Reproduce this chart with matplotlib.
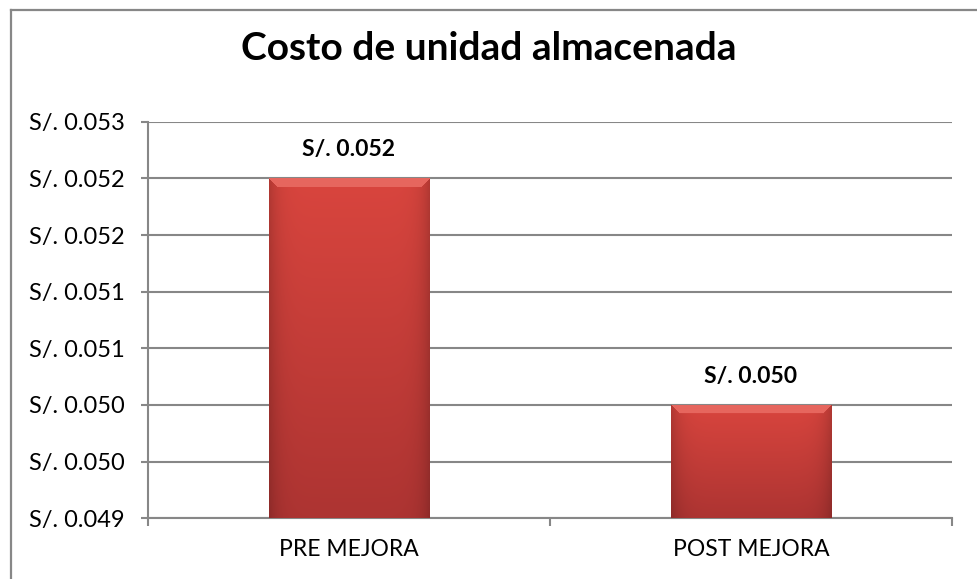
import matplotlib.pyplot as plt
import numpy as np
from matplotlib.lines import Line2D
from matplotlib.ticker import FixedLocator

plt.rcParams['font.family'] = ['Lato', 'DejaVu Sans']

# data
categories = ['PRE MEJORA', 'POST MEJORA']
costs = [0.052, 0.050]
y_ticks = [0.049, 0.0495, 0.050, 0.0505, 0.051, 0.0515, 0.052, 0.0525]
y_tick_labels = ['S/. 0.049', 'S/. 0.050', 'S/. 0.050', 'S/. 0.051',
                 'S/. 0.051', 'S/. 0.052', 'S/. 0.052', 'S/. 0.053']

grey = '#878787'
ymin, ymax = 0.049, 0.0525

fig = plt.figure(figsize=(9.77, 5.79), dpi=100)
ax_h_px = 518.3 - 121.7
ax = fig.add_axes([148/977, 1 - 518.3/579, (952 - 148)/977, ax_h_px/579])

# chart border (left and top edge)
fig.add_artist(Line2D([11/977, 11/977], [0, 1 - 10/579], transform=fig.transFigure, color=grey, lw=1.6))
fig.add_artist(Line2D([11/977, 1], [1 - 10/579, 1 - 10/579], transform=fig.transFigure, color=grey, lw=1.6))

x = np.arange(len(categories))
bars = ax.bar(x, costs, width=0.4, color='#c93c37', zorder=3)

# shaded fill for each bar: lighter top, darker bottom, bevelled top band
top_col = np.array([0xd9, 0x45, 0x3e]) / 255
bot_col = np.array([0xad, 0x34, 0x32]) / 255
band_col = np.array([0xe6, 0x66, 0x5e]) / 255
px_per_unit = ax_h_px / (ymax - ymin)
for b in bars:
    x0, w, h = b.get_x(), b.get_width(), b.get_height()
    nrow = int(round((h - ymin) * px_per_unit))
    ncol = 161
    t = np.linspace(0, 1, nrow)[:, None, None]
    img = bot_col + (top_col - bot_col) * t
    img = np.repeat(img, ncol, axis=1)
    cx = np.abs(np.linspace(-1, 1, ncol))
    edge = 1 - 0.18 * cx ** 8
    img = img * edge[None, :, None]
    # bevel band along the top
    rows_from_top = np.arange(nrow)[::-1][:, None]
    cols = np.arange(ncol)[None, :]
    dist_side = np.minimum(cols, ncol - 1 - cols)
    band = (rows_from_top < 9) & (dist_side >= rows_from_top)
    img[band] = band_col
    im = ax.imshow(np.clip(img, 0, 1), extent=[x0, x0 + w, ymin, h], origin='lower',
                   aspect='auto', zorder=3, interpolation='bilinear')
    im.set_clip_path(b)

for xi, v in zip(x, costs):
    ax.annotate('S/. %.3f' % v, (xi, v), xytext=(0, 13), textcoords='offset points',
                ha='center', va='bottom', fontsize=16.5, fontweight='bold')

ax.set_xlim(-0.5, 1.5)
ax.set_ylim(ymin, ymax)
ax.set_yticks(y_ticks)
ax.set_yticklabels(y_tick_labels, fontsize=17)
ax.set_xticks(x)
ax.set_xticklabels(categories, fontsize=16.5)
ax.xaxis.set_minor_locator(FixedLocator([-0.5, 0.5, 1.5]))
ax.tick_params(axis='x', which='major', length=0, pad=15)
ax.tick_params(axis='x', which='minor', length=6, width=1.5, color=grey, direction='out')
ax.tick_params(axis='y', length=5, width=1.5, color=grey, direction='out', pad=12)

ax.grid(axis='y', color=grey, lw=1.5, zorder=0)
ax.set_axisbelow(True)
for s in ['top', 'right']:
    ax.spines[s].set_visible(False)
for s in ['left', 'bottom']:
    ax.spines[s].set_color(grey)
    ax.spines[s].set_linewidth(1.5)

fig.text(489/977, 1 - 48/579, 'Costo de unidad almacenada', ha='center', va='center',
         fontsize=28, fontweight='bold')

fig.savefig('out.png', dpi=100)
